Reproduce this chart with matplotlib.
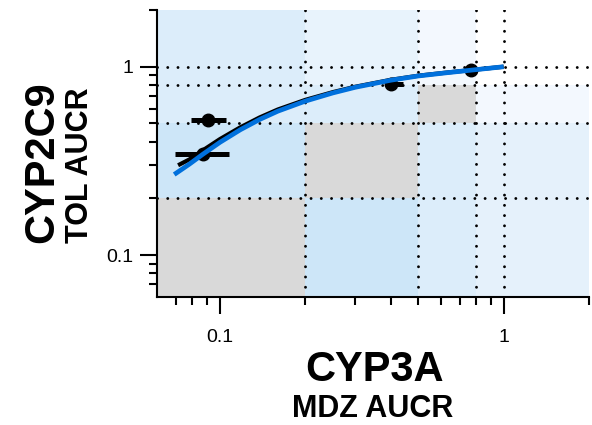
import matplotlib
matplotlib.use("Agg")
import matplotlib.pyplot as plt
from matplotlib.patches import Rectangle
from matplotlib.ticker import FixedLocator, NullFormatter

plt.rcParams['font.family'] = ['Liberation Sans', 'DejaVu Sans']

# region grid
x_edges = [0.06, 0.2, 0.5, 0.8, 2.0]
y_edges = [0.06, 0.2, 0.5, 0.8, 2.0]
# rows from bottom (y), columns from left (x)
region_colors = [
    ["#d9d9d9", "#cde6f8", "#dcedfa", "#e5f1fb"],
    ["#cde6f8", "#d9d9d9", "#dcedfa", "#e5f1fb"],
    ["#dcedfa", "#dcedfa", "#d9d9d9", "#f3f8fe"],
    ["#dcedfa", "#e8f3fc", "#f3f8fe", "#ffffff"],
]
ref_x = [0.2, 0.5, 0.8, 1.0]
ref_y = [0.2, 0.5, 0.8, 1.0]

# observed points
obs_x = [0.091, 0.0869, 0.40, 0.77]
obs_y = [0.521, 0.343, 0.805, 0.956]
obs_xlo = [0.079, 0.0697, 0.382, 0.745]
obs_xhi = [0.105, 0.108, 0.443, 0.795]

# model curves
black_x = [0.0712, 0.078, 0.087, 0.1, 0.118, 0.138, 0.16, 0.2, 0.25, 0.3,
           0.4, 0.5, 0.63, 0.8, 1.0]
black_y = [0.300, 0.322, 0.360, 0.413, 0.477, 0.538, 0.593, 0.667, 0.733,
           0.783, 0.852, 0.896, 0.931, 0.966, 1.0]
blue_x = [0.069, 0.078, 0.087, 0.1, 0.118, 0.138, 0.16, 0.2, 0.25, 0.3,
          0.4, 0.5, 0.63, 0.8, 1.0]
blue_y = [0.268, 0.304, 0.343, 0.397, 0.463, 0.525, 0.581, 0.657, 0.726,
          0.778, 0.848, 0.893, 0.929, 0.965, 1.0]

ticks_major = [0.1, 1]
tick_labels = ["0.1", "1"]
minor_ticks = [0.07, 0.08, 0.09, 0.2, 0.3, 0.4, 0.5, 0.6, 0.7, 0.8, 0.9, 2]

fig = plt.figure(figsize=(5.92, 4.25), dpi=100)
ax = fig.add_axes([0.2652, 0.3012, 0.7298, 0.6753])
ax.set_xscale('log')
ax.set_yscale('log')
ax.set_xlim(x_edges[0], x_edges[-1])
ax.set_ylim(y_edges[0], y_edges[-1])

for i in range(4):
    for j in range(4):
        ax.add_patch(Rectangle((x_edges[j], y_edges[i]),
                               x_edges[j + 1] - x_edges[j],
                               y_edges[i + 1] - y_edges[i],
                               facecolor=region_colors[i][j], edgecolor='none',
                               zorder=0))

dot = dict(color='black', linewidth=2.1, linestyle=(0, (0.01, 3.5)),
           dash_capstyle='round', zorder=1)
for v in ref_x:
    ax.axvline(v, **dot)
for v in ref_y:
    ax.axhline(v, **dot)

xerr = [[x - lo for x, lo in zip(obs_x, obs_xlo)],
        [hi - x for x, hi in zip(obs_x, obs_xhi)]]
ax.errorbar(obs_x, obs_y, xerr=xerr, fmt='o', color='black', markersize=9,
            elinewidth=3.6, capsize=0, zorder=3)

ax.plot(black_x, black_y, color='black', linewidth=3.0, zorder=4,
        solid_capstyle='butt', solid_joinstyle='round')
ax.plot(blue_x, blue_y, color='#0070dc', linewidth=3.4, zorder=5,
        solid_capstyle='butt', solid_joinstyle='round')

for s in ['top', 'right']:
    ax.spines[s].set_visible(False)
for s in ['left', 'bottom']:
    ax.spines[s].set_linewidth(1.5)

ax.xaxis.set_major_locator(FixedLocator(ticks_major))
ax.set_xticklabels(tick_labels)
ax.yaxis.set_major_locator(FixedLocator(ticks_major))
ax.set_yticklabels(tick_labels)
ax.xaxis.set_minor_locator(FixedLocator(minor_ticks))
ax.yaxis.set_minor_locator(FixedLocator(minor_ticks))
ax.xaxis.set_minor_formatter(NullFormatter())
ax.yaxis.set_minor_formatter(NullFormatter())
ax.tick_params(which='major', length=12, width=1.5, labelsize=14,
               direction='out')
ax.tick_params(which='minor', length=6, width=1.5, direction='out')
ax.tick_params(axis='x', which='major', pad=11)
ax.tick_params(axis='y', which='major', pad=5)

fig.text(0.6318, 0.1040, "CYP3A", fontsize=30, fontweight='bold',
         ha='center', va='baseline')
fig.text(0.630, 0.019, "MDZ AUCR", fontsize=22, fontweight='bold',
         ha='center', va='baseline')
fig.text(0.0895, 0.619, "CYP2C9", fontsize=30, fontweight='bold',
         ha='center', va='baseline', rotation=90, rotation_mode='anchor')
fig.text(0.1486, 0.612, "TOL AUCR", fontsize=22, fontweight='bold',
         ha='center', va='baseline', rotation=90, rotation_mode='anchor')

fig.savefig("out.png", dpi=100)
